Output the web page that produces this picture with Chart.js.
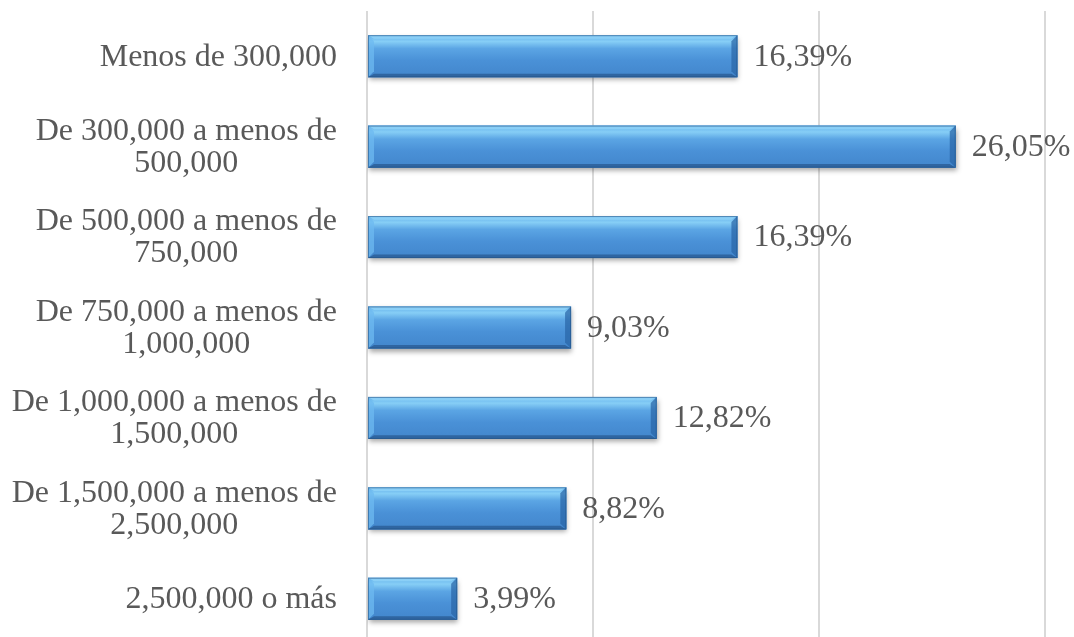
<!DOCTYPE html>
<html>
<head>
<meta charset="utf-8">
<script src="https://cdn.jsdelivr.net/npm/chart.js@4/dist/chart.umd.min.js"></script>
<style>
  html, body { margin: 0; padding: 0; background: #fff; overflow: hidden; }
  #wrap { width: 1074px; height: 644px; position: relative; }
</style>
</head>
<body>
<div id="wrap"><canvas id="incomeChart"></canvas></div>
<script>
// Income brackets and share of households (%)
const brackets = [
  ['Menos de 300,000'],
  ['De 300,000 a menos de', '500,000'],
  ['De 500,000 a menos de', '750,000'],
  ['De 750,000 a menos de', '1,000,000'],
  ['De 1,000,000 a menos de', '1,500,000'],
  ['De 1,500,000 a menos de', '2,500,000'],
  ['2,500,000 o más']
];
const shares = [16.39, 26.05, 16.39, 9.03, 12.82, 8.82, 3.99];
const gridTicks = [0, 10, 20, 30];

const FONT = '32px "Liberation Serif", "Times New Roman", serif';
const TEXT_COLOR = '#595959';

function fmtPct(v) {
  return v.toFixed(2).replace('.', ',') + '%';
}

// soft drop shadow under the bars
const shadowPlugin = {
  id: 'barShadow',
  beforeDatasetDraw(chart) {
    const ctx = chart.ctx;
    ctx.save();
    ctx.shadowColor = 'rgba(0,0,0,0.35)';
    ctx.shadowBlur = 5;
    ctx.shadowOffsetX = 1;
    ctx.shadowOffsetY = 3;
  },
  afterDatasetDraw(chart) {
    chart.ctx.restore();
  }
};

// bevelled face drawn on top of each bar
const bevelPlugin = {
  id: 'bevel',
  afterDatasetsDraw(chart) {
    const ctx = chart.ctx;
    const meta = chart.getDatasetMeta(0);
    meta.data.forEach(bar => {
      const x0 = bar.base, x1 = bar.x;
      const y0 = bar.y - bar.height / 2, y1 = bar.y + bar.height / 2;
      const b = 6;
      ctx.save();
      // face
      const g = ctx.createLinearGradient(0, y0, 0, y1);
      g.addColorStop(0, '#62aeea');
      g.addColorStop(0.15, '#86cef6');
      g.addColorStop(0.32, '#5ba5e4');
      g.addColorStop(0.6, '#4a91d7');
      g.addColorStop(1, '#4286cc');
      ctx.fillStyle = g;
      ctx.fillRect(x0, y0, x1 - x0, y1 - y0);
      // top edge
      ctx.fillStyle = 'rgba(150,215,250,0.7)';
      ctx.beginPath();
      ctx.moveTo(x0, y0); ctx.lineTo(x1, y0); ctx.lineTo(x1 - b, y0 + b * 0.6); ctx.lineTo(x0 + b, y0 + b * 0.6);
      ctx.closePath(); ctx.fill();
      // left edge
      ctx.fillStyle = 'rgba(110,185,240,0.75)';
      ctx.beginPath();
      ctx.moveTo(x0, y0); ctx.lineTo(x0 + b, y0 + b); ctx.lineTo(x0 + b, y1 - b); ctx.lineTo(x0, y1);
      ctx.closePath(); ctx.fill();
      // right edge
      ctx.fillStyle = 'rgba(40,100,165,0.7)';
      ctx.beginPath();
      ctx.moveTo(x1, y0); ctx.lineTo(x1 - b, y0 + b); ctx.lineTo(x1 - b, y1 - b); ctx.lineTo(x1, y1);
      ctx.closePath(); ctx.fill();
      // bottom edge
      ctx.fillStyle = 'rgba(40,90,145,0.75)';
      ctx.beginPath();
      ctx.moveTo(x0, y1); ctx.lineTo(x1, y1); ctx.lineTo(x1 - b, y1 - b * 0.6); ctx.lineTo(x0 + b, y1 - b * 0.6);
      ctx.closePath(); ctx.fill();
      // outline
      ctx.strokeStyle = 'rgba(35,80,130,0.55)';
      ctx.lineWidth = 1;
      ctx.strokeRect(x0 + 0.5, y0 + 0.5, x1 - x0 - 1, y1 - y0 - 1);
      ctx.restore();
    });
  }
};

// category labels (multi-line labels centred within their block) and value labels
const labelPlugin = {
  id: 'labels',
  afterDraw(chart) {
    const ctx = chart.ctx;
    const yScale = chart.scales.y;
    const meta = chart.getDatasetMeta(0);
    const right = chart.chartArea.left - 30;
    const lineH = 32;
    ctx.save();
    ctx.font = FONT;
    ctx.fillStyle = TEXT_COLOR;
    ctx.textBaseline = 'middle';
    ctx.textAlign = 'center';
    brackets.forEach((lines, i) => {
      const cy = yScale.getPixelForTick(i) + 1;
      const w = Math.max(...lines.map(l => ctx.measureText(l).width));
      const cx = right - w / 2;
      lines.forEach((l, j) => {
        ctx.fillText(l, cx, cy + (j - (lines.length - 1) / 2) * lineH);
      });
    });
    ctx.textAlign = 'left';
    meta.data.forEach((bar, i) => {
      ctx.fillText(fmtPct(shares[i]), bar.x + 16, bar.y + 1);
    });
    ctx.restore();
  }
};

new Chart(document.getElementById('incomeChart'), {
  type: 'bar',
  data: {
    labels: brackets,
    datasets: [{
      data: shares,
      backgroundColor: '#4a90d6',
      borderWidth: 0,
      categoryPercentage: 1,
      barPercentage: 0.465
    }]
  },
  options: {
    indexAxis: 'y',
    responsive: true,
    maintainAspectRatio: false,
    animation: false,
    layout: { padding: { top: 11, right: 29, bottom: 0, left: 0 } },
    plugins: {
      legend: { display: false },
      tooltip: { enabled: false }
    },
    scales: {
      x: {
        min: gridTicks[0],
        max: gridTicks[gridTicks.length - 1],
        afterBuildTicks: scale => { scale.ticks = gridTicks.map(v => ({ value: v })); },
        ticks: { display: false },
        grid: { color: '#d9d9d9', lineWidth: 2, drawTicks: false },
        border: { display: false },
        afterFit: scale => { scale.height = 0; }
      },
      y: {
        ticks: { display: false },
        grid: { display: false },
        border: { display: false },
        afterFit: scale => { scale.width = 367; }
      }
    }
  },
  plugins: [shadowPlugin, bevelPlugin, labelPlugin]
});
</script>
</body>
</html>
